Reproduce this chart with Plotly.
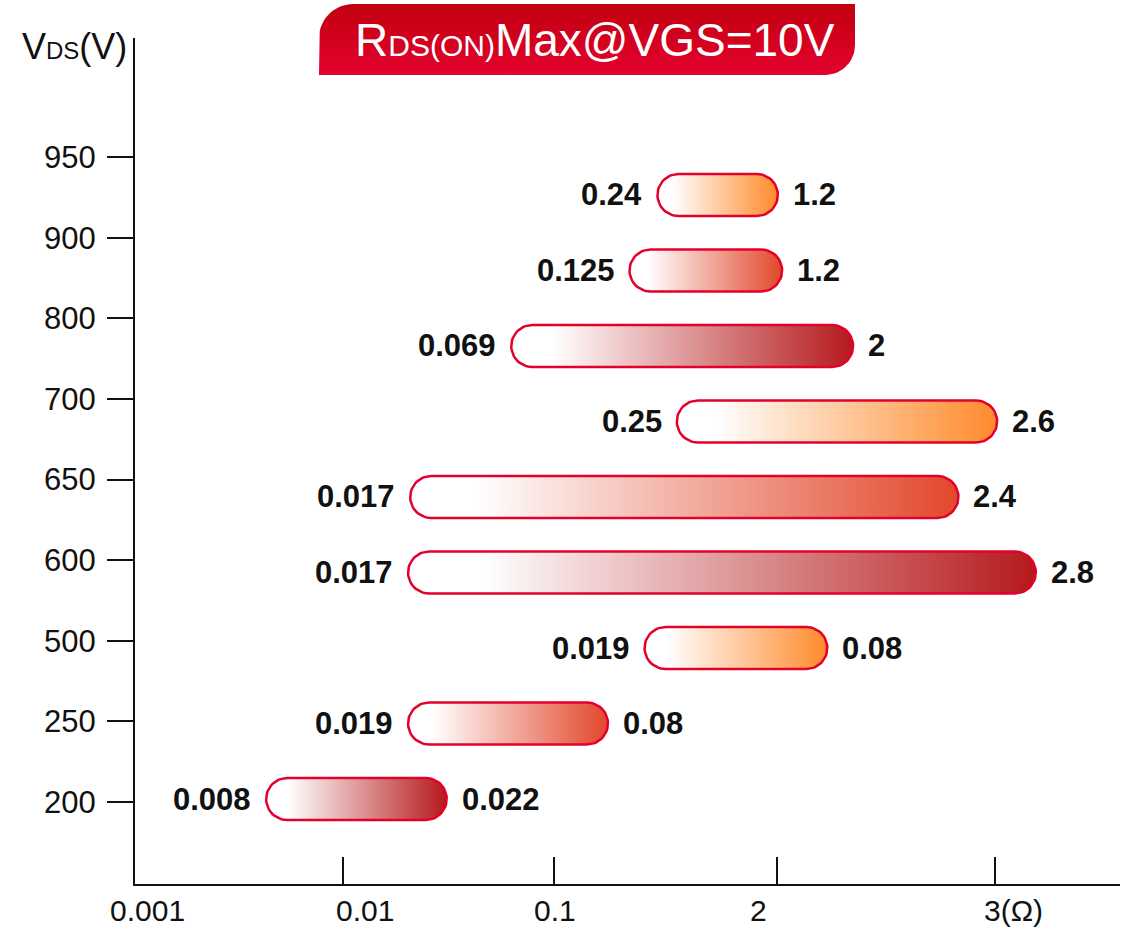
import numpy as np
import plotly.graph_objects as go

# ---------------- data ----------------
vds_labels = ["200", "250", "500", "600", "650", "700", "800", "900", "950"]
r_min_text = ["0.008", "0.019", "0.019", "0.017", "0.017", "0.25", "0.069", "0.125", "0.24"]
r_max_text = ["0.022", "0.08", "0.08", "2.8", "2.4", "2.6", "2", "1.2", "1.2"]
# bar extents on the (schematic) resistance axis, in axis units
bar_start = [0.61, 1.27, 2.37, 1.27, 1.28, 2.52, 1.75, 2.30, 2.43]
bar_end = [1.45, 2.20, 3.22, 4.19, 3.83, 4.01, 3.34, 3.01, 2.99]
x_tick_vals = [0.967, 1.949, 2.986, 4.0]
x_tick_labels = ["0.001", "0.01", "0.1", "2", "3(Ω)"]
x_label_pos = [0.056, 1.070, 1.953, 2.902, 4.088]

# ---------------- styles ----------------
FONT = "Liberation Sans, Arial, Helvetica, sans-serif"
OUTLINE = "#e4002b"
END_PALETTE = ["#b5191c", "#e2472b", "#ff8a2b"]

W, H = 1122, 927
ML, MR, MT, MB = 135, 2, 0, 43
PW, PH = W - ML - MR, H - MT - MB
PX_PER_X = 215.0
X_RANGE = [0, PW / PX_PER_X]
Y_TOP = 38
Y_DOMAIN_TOP = (PH - (Y_TOP - MT)) / PH
DOM_PX = PH - (Y_TOP - MT)
Y_PX_PER = 80.6
Y_RANGE = [-(H - MB - 802) / Y_PX_PER, 0]
Y_RANGE[1] = Y_RANGE[0] + DOM_PX / Y_PX_PER
B_PX_PER = 75.5
Y2_RANGE = [-(H - MB - 799) / B_PX_PER, 0]
Y2_RANGE[1] = Y2_RANGE[0] + DOM_PX / B_PX_PER

R_PX = 21
rx = R_PX / PX_PER_X
ry = R_PX / B_PX_PER


def pill(x0, x1, yc, n=30):
    t1 = np.linspace(-np.pi / 2, np.pi / 2, n)
    t2 = np.linspace(np.pi / 2, 3 * np.pi / 2, n)
    xs = np.concatenate([(x1 - rx) + rx * np.cos(t1), (x0 + rx) + rx * np.cos(t2)])
    ys = np.concatenate([yc + ry * np.sin(t1), yc + ry * np.sin(t2)])
    xs = np.append(xs, xs[0])
    ys = np.append(ys, ys[0])
    return xs, ys


fig = go.Figure()

# anchor trace so the main x/y subplot (with the V_DS axis) is created
fig.add_trace(go.Scatter(x=[None] * len(vds_labels), y=list(range(len(vds_labels))),
                         mode="markers", xaxis="x", yaxis="y",
                         hoverinfo="skip", showlegend=False))

for i, (x0, x1) in enumerate(zip(bar_start, bar_end)):
    xs, ys = pill(x0, x1, i)
    c = END_PALETTE[i % 3]
    fig.add_trace(go.Scatter(
        x=xs, y=ys, mode="lines", fill="toself",
        fillgradient=dict(type="horizontal",
                          colorscale=[[0, "#ffffff"], [0.12, "#ffffff"], [1, c]],
                          start=x0, stop=x1),
        line=dict(color=OUTLINE, width=2.5),
        xaxis="x", yaxis="y2", hoverinfo="skip", showlegend=False))

annotations = []
for i, (x0, x1) in enumerate(zip(bar_start, bar_end)):
    annotations.append(dict(x=x0, y=i, xref="x", yref="y2", text=r_min_text[i],
                            showarrow=False, xanchor="right", yanchor="middle", xshift=-13,
                            font=dict(family=FONT, size=31, color="#111111", weight="bold")))
    annotations.append(dict(x=x1, y=i, xref="x", yref="y2", text=r_max_text[i],
                            showarrow=False, xanchor="left", yanchor="middle", xshift=13,
                            font=dict(family=FONT, size=31, color="#111111", weight="bold")))

for pos, lab in zip(x_label_pos, x_tick_labels):
    annotations.append(dict(x=pos, y=0, xref="x", yref="paper", text=lab, showarrow=False,
                            xanchor="center", yanchor="top", yshift=-8,
                            font=dict(family=FONT, size=30, color="#111111")))


def pxx(p):
    return (p - ML) / PW


def pxy(p):
    return (H - MB - p) / PH


annotations.append(dict(x=pxx(74), y=pxy(46), xref="paper", yref="paper",
                        text="V<span style='font-size:24px'>DS</span>(V)",
                        showarrow=False, xanchor="center", yanchor="middle",
                        font=dict(family=FONT, size=36, color="#111111")))

# title box (decoration) drawn in pixel space on a helper subplot
L, R_, T, B = 319, 855, 4, 75
rtl, rbr = 34, 30
bx, by = [L, L], [B, T + rtl]
a = np.linspace(np.pi, 1.5 * np.pi, 16)
bx += list(L + rtl + rtl * np.cos(a)); by += list(T + rtl + rtl * np.sin(a))
bx += [R_, R_]; by += [T, B - rbr]
a = np.linspace(0, 0.5 * np.pi, 16)
bx += list(R_ - rbr + rbr * np.cos(a)); by += list(B - rbr + rbr * np.sin(a))
bx += [L]; by += [B]
fig.add_trace(go.Scatter(
    x=bx, y=by, mode="lines", fill="toself",
    fillgradient=dict(type="vertical", colorscale=[[0, "#e3022e"], [1, "#c2000f"]]),
    line=dict(width=0, color="rgba(0,0,0,0)"),
    xaxis="x3", yaxis="y3", hoverinfo="skip", showlegend=False))

annotations.append(dict(x=pxx(595), y=pxy(40), xref="paper", yref="paper",
                        text="R<span style='font-size:30px'>DS(ON)</span>Max@VGS=10V",
                        showarrow=False, xanchor="center", yanchor="middle",
                        font=dict(family=FONT, size=46, color="#ffffff")))

fig.update_layout(
    width=W, height=H,
    margin=dict(l=ML, r=MR, t=MT, b=MB),
    paper_bgcolor="white", plot_bgcolor="rgba(0,0,0,0)",
    showlegend=False,
    font=dict(family=FONT, color="#111111"),
    xaxis=dict(domain=[0, 1], range=X_RANGE, showline=True, linecolor="#111111", linewidth=2,
               ticks="inside", ticklen=27, tickwidth=2, tickcolor="#111111",
               tickvals=x_tick_vals, showticklabels=False, showgrid=False, zeroline=False,
               fixedrange=True, anchor="y"),
    yaxis=dict(domain=[0, Y_DOMAIN_TOP], range=Y_RANGE, showline=True, linecolor="#111111",
               linewidth=2, ticks="outside", ticklen=26, tickwidth=2, tickcolor="#111111",
               tickvals=list(range(len(vds_labels))), ticktext=vds_labels,
               tickfont=dict(family=FONT, size=31, color="#111111"), ticklabelstandoff=5,
               showgrid=False, zeroline=False, fixedrange=True, anchor="x"),
    yaxis2=dict(overlaying="y", range=Y2_RANGE, visible=False, fixedrange=True, anchor="x"),
    xaxis3=dict(domain=[0, 1], range=[ML, W - MR], visible=False, anchor="y3", fixedrange=True),
    yaxis3=dict(domain=[0, 1], range=[H - MB, MT], visible=False, anchor="x3", fixedrange=True),
    annotations=annotations,
)

fig.write_html("out.html")
